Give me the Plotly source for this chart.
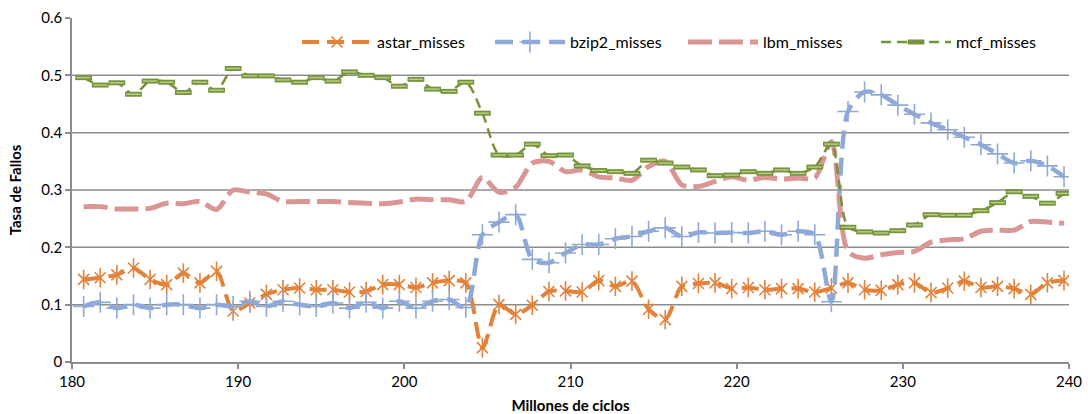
import plotly.graph_objects as go

# Sampling instants (millions of cycles)
ciclos = [180.7, 181.7, 182.7, 183.7, 184.7, 185.7, 186.7, 187.7, 188.7, 189.7,
          190.7, 191.7, 192.7, 193.7, 194.7, 195.7, 196.7, 197.7, 198.7, 199.7,
          200.7, 201.7, 202.7, 203.7, 204.7, 205.7, 206.7, 207.7, 208.7, 209.7,
          210.7, 211.7, 212.7, 213.7, 214.7, 215.7, 216.7, 217.7, 218.7, 219.7,
          220.7, 221.7, 222.7, 223.7, 224.7, 225.7, 226.7, 227.7, 228.7, 229.7,
          230.7, 231.7, 232.7, 233.7, 234.7, 235.7, 236.7, 237.7, 238.7, 239.7]

astar_misses = [0.144, 0.147, 0.152, 0.164, 0.144, 0.135, 0.155, 0.138, 0.158, 0.089,
                0.103, 0.118, 0.126, 0.129, 0.126, 0.126, 0.122, 0.123, 0.135, 0.135,
                0.130, 0.138, 0.142, 0.138, 0.025, 0.100, 0.083, 0.099, 0.123, 0.124,
                0.122, 0.142, 0.132, 0.141, 0.092, 0.074, 0.132, 0.137, 0.138, 0.128,
                0.130, 0.126, 0.128, 0.128, 0.122, 0.129, 0.138, 0.126, 0.125, 0.135,
                0.138, 0.121, 0.129, 0.141, 0.130, 0.132, 0.128, 0.118, 0.138, 0.142]

bzip2_misses = [0.097, 0.104, 0.094, 0.100, 0.094, 0.100, 0.100, 0.094, 0.100, 0.097,
                0.106, 0.097, 0.106, 0.100, 0.097, 0.103, 0.094, 0.104, 0.094, 0.106,
                0.094, 0.106, 0.109, 0.095, 0.222, 0.244, 0.257, 0.179, 0.173, 0.190,
                0.205, 0.205, 0.215, 0.219, 0.228, 0.234, 0.219, 0.226, 0.225, 0.226,
                0.225, 0.228, 0.222, 0.228, 0.222, 0.105, 0.437, 0.471, 0.466, 0.448,
                0.432, 0.417, 0.405, 0.392, 0.379, 0.363, 0.347, 0.351, 0.342, 0.323]

lbm_misses = [0.271, 0.271, 0.267, 0.267, 0.268, 0.277, 0.276, 0.280, 0.266, 0.300,
              0.296, 0.293, 0.280, 0.280, 0.280, 0.280, 0.278, 0.277, 0.276, 0.279,
              0.284, 0.283, 0.283, 0.280, 0.322, 0.296, 0.305, 0.347, 0.350, 0.332,
              0.335, 0.323, 0.321, 0.317, 0.341, 0.350, 0.309, 0.306, 0.315, 0.323,
              0.317, 0.322, 0.319, 0.321, 0.321, 0.384, 0.193, 0.181, 0.187, 0.191,
              0.193, 0.209, 0.213, 0.215, 0.228, 0.230, 0.230, 0.245, 0.244, 0.242]

mcf_misses = [0.496, 0.483, 0.487, 0.467, 0.490, 0.488, 0.470, 0.488, 0.474, 0.512,
              0.499, 0.499, 0.492, 0.488, 0.496, 0.490, 0.506, 0.500, 0.496, 0.481,
              0.493, 0.476, 0.472, 0.488, 0.434, 0.361, 0.361, 0.380, 0.360, 0.361,
              0.342, 0.334, 0.332, 0.329, 0.352, 0.347, 0.340, 0.335, 0.325, 0.326,
              0.332, 0.329, 0.335, 0.329, 0.340, 0.380, 0.235, 0.227, 0.225, 0.229,
              0.239, 0.257, 0.256, 0.256, 0.264, 0.278, 0.297, 0.289, 0.277, 0.294]

ORANGE = "#E3823A"
BLUE = "#8EA9D8"
PINK = "#D99694"
GREEN = "#76933C"
GREEN_LIGHT = "#B5CD86"
GRID = "#8C8C8C"
FONT = "Lato"
SMOOTH = 0.8

fig = go.Figure()

# astar: thick dashed orange line with six-armed star markers
fig.add_trace(go.Scatter(
    x=ciclos, y=astar_misses, name="astar_misses", mode="lines+markers",
    line=dict(color=ORANGE, width=4, dash="17px,8px", shape="spline", smoothing=SMOOTH),
    marker=dict(symbol="x-thin-open", size=11, color=ORANGE,
                line=dict(color=ORANGE, width=1.6)),
    legendgroup="astar"))
fig.add_trace(go.Scatter(
    x=ciclos, y=astar_misses, mode="markers", showlegend=False, hoverinfo="skip",
    marker=dict(symbol="line-ns-open", size=14, color=ORANGE,
                line=dict(color=ORANGE, width=1.6)),
    legendgroup="astar"))

# bzip2: dashed blue line with thin cross markers
fig.add_trace(go.Scatter(
    x=ciclos, y=bzip2_misses, name="bzip2_misses", mode="lines+markers",
    line=dict(color=BLUE, width=4.5, dash="18px,9px", shape="spline", smoothing=SMOOTH),
    marker=dict(symbol="cross-thin-open", size=15, color=BLUE,
                line=dict(color=BLUE, width=1.6))))

# lbm: wide pink dashes, no markers
fig.add_trace(go.Scatter(
    x=ciclos, y=lbm_misses, name="lbm_misses", mode="lines",
    line=dict(color=PINK, width=5, dash="24px,7px", shape="spline", smoothing=SMOOTH)))

# mcf: thin green dashes with bar-shaped markers
fig.add_trace(go.Scatter(
    x=ciclos, y=mcf_misses, name="mcf_misses", mode="lines+markers",
    line=dict(color=GREEN, width=2.5, dash="10px,6px", shape="spline", smoothing=SMOOTH),
    marker=dict(symbol="line-ew-open", size=12, color=GREEN,
                line=dict(color=GREEN, width=5)),
    legendgroup="mcf"))
fig.add_trace(go.Scatter(
    x=ciclos, y=mcf_misses, mode="markers", showlegend=False, hoverinfo="skip",
    marker=dict(symbol="line-ew-open", size=10, color=GREEN_LIGHT,
                line=dict(color=GREEN_LIGHT, width=1.5)),
    legendgroup="mcf"))

# horizontal gridlines (none along the top edge)
for v in [0.1, 0.2, 0.3, 0.4, 0.5]:
    fig.add_hline(y=v, line=dict(color=GRID, width=1.5), layer="below")

fig.update_layout(
    width=1088, height=414,
    margin=dict(l=72, r=19, t=18, b=52),
    paper_bgcolor="white", plot_bgcolor="white",
    font=dict(family=FONT, size=15, color="#000000"),
    showlegend=True,
    legend=dict(orientation="h", x=1.0, xanchor="right", y=0.93, yanchor="middle",
                bgcolor="rgba(0,0,0,0)", itemwidth=70, font=dict(size=16),
                entrywidth=108, entrywidthmode="pixels", traceorder="normal"),
)

fig.update_xaxes(
    range=[180, 240], tick0=180, dtick=10, showgrid=False, zeroline=False,
    showline=True, linecolor=GRID, linewidth=1.5,
    ticks="outside", ticklen=5, tickcolor=GRID, tickwidth=1.5,
    tickfont=dict(size=15), automargin=False,
    title=dict(text="<b>Millones de ciclos</b>", font=dict(size=15), standoff=12))

fig.update_yaxes(
    range=[0, 0.6], tick0=0, dtick=0.1, showgrid=False, zeroline=False,
    showline=True, linecolor=GRID, linewidth=1.5,
    ticks="outside", ticklen=5, tickcolor=GRID, tickwidth=1.5,
    tickfont=dict(size=15), tickformat="~g", automargin=False,
    title=dict(text="<b>Tasa de Fallos</b>", font=dict(size=15), standoff=16))

fig.write_html("out.html")
